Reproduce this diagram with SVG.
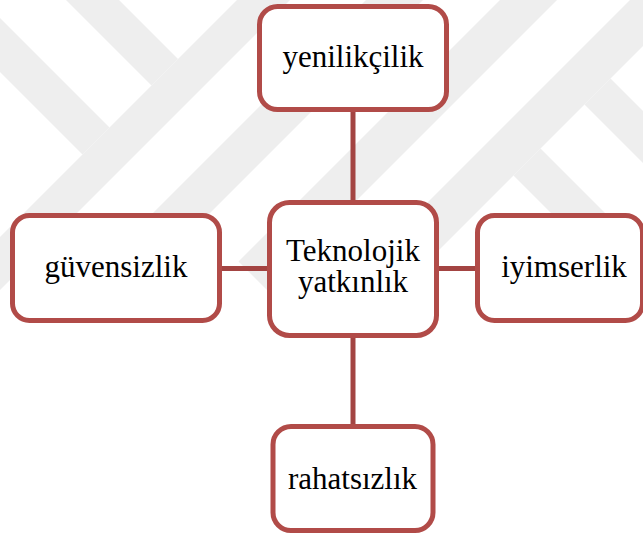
<svg xmlns="http://www.w3.org/2000/svg" width="643" height="535" viewBox="0 0 643 535">
  <style>
    .wm { fill: #eeeeee; }
    .box { fill: #ffffff; stroke: #b14b48; stroke-width: 5; }
    .link { stroke: #a34442; stroke-width: 5; fill: none; }
    .lbl { font-family: "Liberation Serif", "Times New Roman", serif; font-size: 31px; fill: #000000; text-anchor: middle; }
  </style>

  <rect x="0" y="0" width="643" height="535" fill="#ffffff"/>

  <!-- faint background emblem made of diagonal bands -->
  <g id="watermark">
    <polygon class="wm" points="-136,-64 -109,-91 109.5,127.5 82.5,154.5"/>
    <polygon class="wm" points="-17,-83 9.5,-109.5 178,59 151.5,85.5"/>
    <polygon class="wm" points="-81.5,318.5 -55,345 299,-9 272.5,-35.5"/>
    <polygon class="wm" points="133,233 161.5,261.5 452,-29 423.5,-57.5"/>
    <polygon class="wm" points="238.5,261.5 267,290 603.5,-46.5 575,-75"/>
    <polygon class="wm" points="390,240 419.5,269.5 794.5,-105.5 765,-135"/>
    <polygon class="wm" points="584.5,104.5 610.5,78.5 816,284 790,310"/>
    <polygon class="wm" points="513.5,175.5 540.5,148.5 746,354 719,381"/>
  </g>

  <!-- connectors from the central node to the four outer nodes -->
  <g id="connectors">
    <line class="link" x1="353" y1="110" x2="353" y2="203"/>
    <line class="link" x1="220" y1="268.5" x2="270" y2="268.5"/>
    <line class="link" x1="436" y1="268.5" x2="478" y2="268.5"/>
    <line class="link" x1="353" y1="335" x2="353" y2="427"/>
  </g>

  <g id="node-yenilikcilik">
    <rect class="box" x="259.5" y="6.5" width="187" height="103" rx="18" ry="18"/>
    <text class="lbl" x="353" y="67">yenilikçilik</text>
  </g>

  <g id="node-teknolojik-yatkinlik">
    <rect class="box" x="269.5" y="202.5" width="167" height="133" rx="20" ry="20"/>
    <text class="lbl" x="353" y="260.5">Teknolojik</text>
    <text class="lbl" x="353" y="292">yatkınlık</text>
  </g>

  <g id="node-guvensizlik">
    <rect class="box" x="12.5" y="215.5" width="207" height="105" rx="17" ry="17"/>
    <text class="lbl" x="116" y="277">güvensizlik</text>
  </g>

  <g id="node-iyimserlik">
    <rect class="box" x="477.5" y="215.5" width="165" height="105" rx="17" ry="17"/>
    <text class="lbl" x="564" y="277">iyimserlik</text>
  </g>

  <g id="node-rahatsizlik">
    <rect class="box" x="273" y="426.5" width="160" height="104" rx="18" ry="18"/>
    <text class="lbl" x="352.5" y="489">rahatsızlık</text>
  </g>
</svg>
